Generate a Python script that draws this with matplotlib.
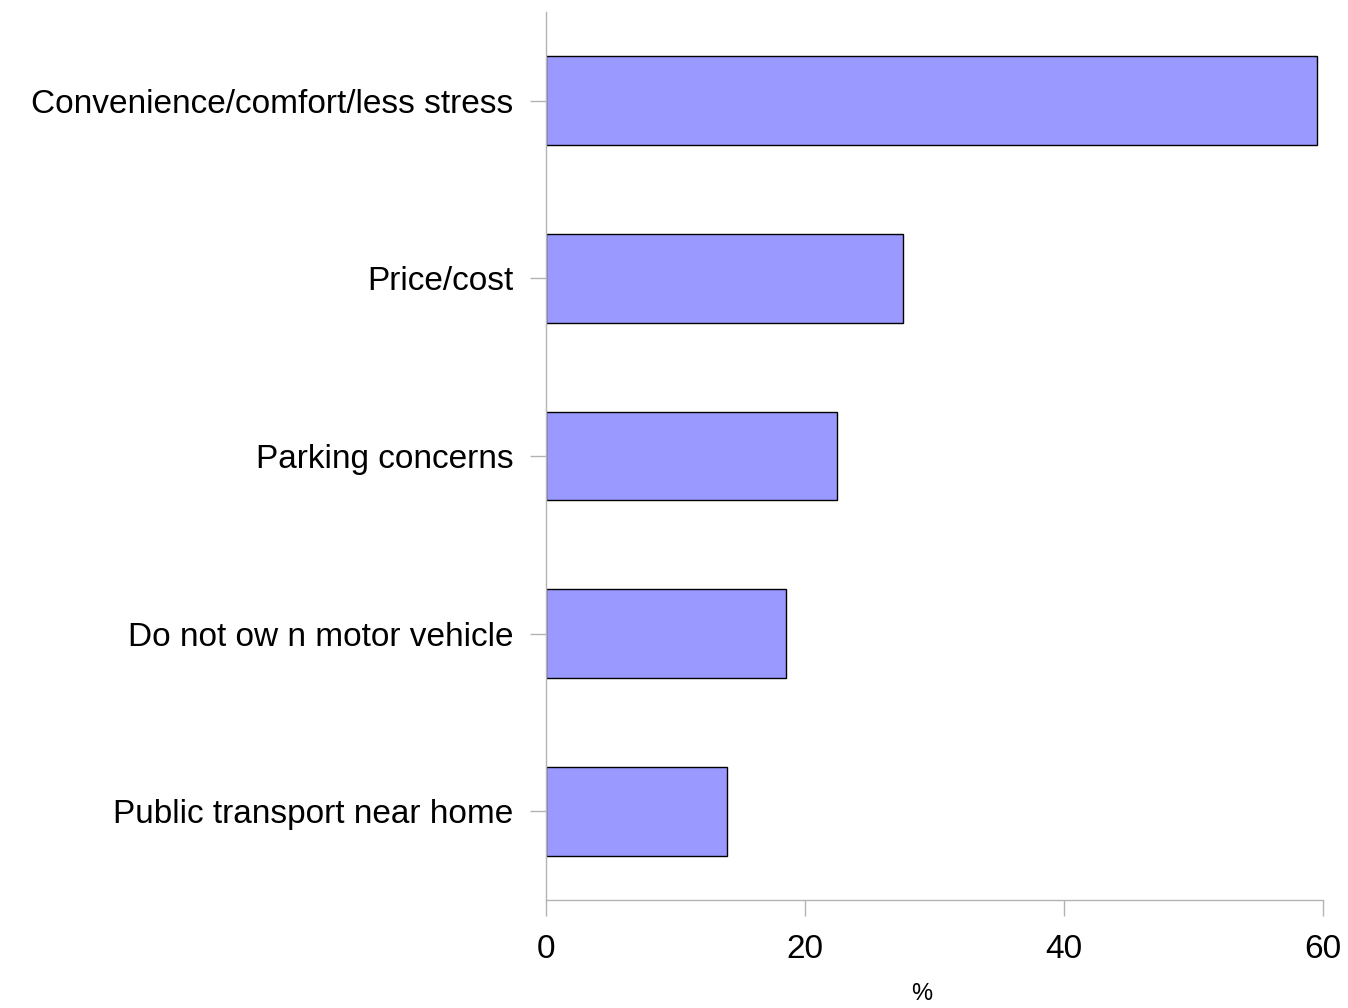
import matplotlib
matplotlib.use("Agg")
import matplotlib.pyplot as plt

# categories listed top to bottom, values in %
categories = ["Convenience/comfort/less stress", "Price/cost", "Parking concerns",
              "Do not ow n motor vehicle", "Public transport near home"]
values = [59.5, 27.6, 22.5, 18.5, 14.0]
x_ticks = [0, 20, 40, 60]

plt.rcParams['font.family'] = ['Liberation Sans', 'DejaVu Sans']

fig = plt.figure(figsize=(13.48, 10.08), dpi=100)
ax = fig.add_axes([546 / 1348, 108 / 1008, 777 / 1348, 888 / 1008])

pos = list(range(len(categories)))
ax.barh(pos, values, height=0.5, color="#9999ff", edgecolor="black", linewidth=1)

ax.set_ylim(len(categories) - 0.5, -0.5)
ax.set_xlim(0, 60)
ax.set_yticks(pos)
ax.set_yticklabels(categories, fontsize=24)
ax.set_xticks(x_ticks)
ax.set_xticklabels([str(t) for t in x_ticks], fontsize=24)

for side in ["top", "right"]:
    ax.spines[side].set_visible(False)
for side in ["left", "bottom"]:
    ax.spines[side].set_color("#b3b3b3")
    ax.spines[side].set_linewidth(1)
ax.tick_params(axis="both", colors="#b3b3b3", labelcolor="black",
               length=11.5, width=1)
ax.tick_params(axis="y", pad=12)
ax.tick_params(axis="x", pad=13)

# axis title sits low, under the middle of the axis
fig.text(922 / 1348, 1 - 994 / 1008, "%", fontsize=17, ha="center", va="center")

fig.savefig("out.png", dpi=100)
